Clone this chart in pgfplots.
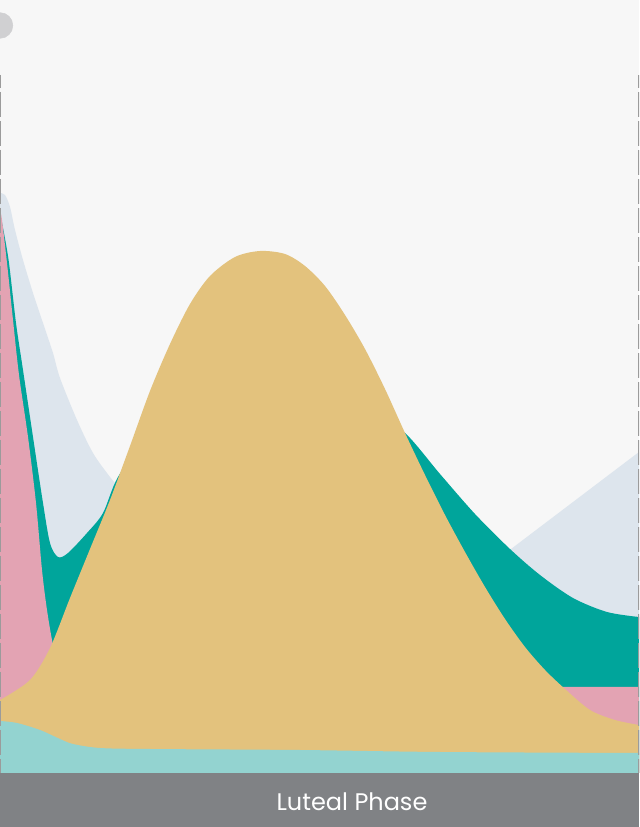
\documentclass[border=0pt]{standalone}
\usepackage{pgfplots}
\pgfplotsset{compat=1.18}
\usepackage{fontspec}
\setmainfont{Poppins}

\definecolor{bgc}{HTML}{F7F7F7}
\definecolor{bluegray}{HTML}{DDE5ED}
\definecolor{tealc}{HTML}{00A59B}
\definecolor{pinkc}{HTML}{E3A3B3}
\definecolor{yellowc}{HTML}{E3C27D}
\definecolor{lteal}{HTML}{93D3D0}
\definecolor{band}{HTML}{808285}
\definecolor{dotc}{HTML}{D0D0D2}
\definecolor{dashc}{HTML}{9B9B9B}

\begin{document}
\begin{tikzpicture}
\begin{axis}[
    x=0.75pt, y=0.75pt,
    xmin=0, xmax=639,
    ymin=-54, ymax=773,
    hide axis,
    clip=true,
    no markers,
    every axis plot/.append style={draw=none},
]
% background and bottom band
\addplot[fill=bgc] coordinates {(0,0)(639,0)(639,773)(0,773)} -- cycle;
\addplot[fill=band] coordinates {(0,-54)(639,-54)(639,0)(0,0)} -- cycle;

% light blue-gray layer (left curve, right straight rise)
\addplot[fill=bluegray, smooth] coordinates {
    (0,580)(5,578)(10,566)(15,543)(23,513)(33,480)(43,450)(53,420)(60,395)
    (77,353)(93,320)(110,296)(125,278)(160,233)(220,183)(300,148)(360,136)(420,155)
} \closedcycle;
\addplot[fill=bluegray] coordinates {(420,155)(639,321)} \closedcycle;

% teal layer
\addplot[fill=tealc, smooth] coordinates {
    (0,560)(4,540)(9,510)(16,450)(23,403)(33,336)(43,270)(50,230)(58,216)
    (68,220)(87,240)(103,260)(118,296)(150,340)(200,370)(260,382)(320,378)
    (370,362)(405,340)(440,299)(475,259)(510,224)(540,198)(573,175)
    (607,161)(639,156)
} \closedcycle;

% pink layer
\addplot[fill=pinkc, smooth] coordinates {
    (0,563)(2,553)(7,510)(13,453)(19,398)(28,336)(36,270)(42,203)(47,163)
    (53,128)(60,103)(75,90)(100,86)(300,86)(639,86)
} \closedcycle;

% yellow layer
\addplot[fill=yellowc, smooth] coordinates {
    (0,73)(30,93)(50,125)(70,175)(90,224)(110,273)(130,327)(150,382)(170,429)
    (190,469)(210,497)(235,516)(260,522)(285,519)(305,507)(325,487)(345,458)
    (365,424)(385,384)(405,340)(425,298)(445,258)(465,221)(485,186)(505,154)
    (525,126)(545,103)(565,84)(590,63)(615,53)(639,48)
} \closedcycle;

% light teal layer
\addplot[fill=lteal, smooth] coordinates {
    (0,52)(17,50)(40,43)(60,34)(73,29)(100,25)(150,24)(300,23)(440,21)(639,20)
} \closedcycle;

% grey dot at top left
\addplot[only marks, color=dotc, mark=*, mark size=9.6pt,
    mark options={fill=dotc, draw=dotc}]
    coordinates {(0,747.5)};

% dashed edge lines
\addplot[draw=dashc, line width=1.5pt, dash pattern=on 18.75pt off 3pt, dash phase=9pt]
    coordinates {(0,698)(0,0)};
\addplot[draw=dashc, line width=1.5pt, dash pattern=on 18.75pt off 3pt, dash phase=9pt]
    coordinates {(639,698)(639,0)};

\node[text=white, font=\fontsize{18pt}{20pt}\selectfont, anchor=center]
    at (axis cs:352,-29) {Luteal Phase};

\coordinate (sw) at (rel axis cs:0,0);
\coordinate (ne) at (rel axis cs:1,1);
\end{axis}
\pgfresetboundingbox
\path[use as bounding box] (sw) rectangle (ne);
\end{tikzpicture}
\end{document}
